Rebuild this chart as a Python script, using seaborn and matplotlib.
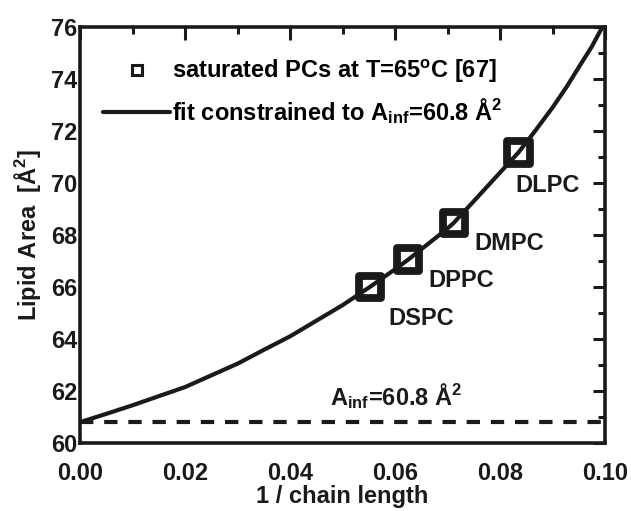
import matplotlib
matplotlib.use("Agg")
import matplotlib.pyplot as plt
import seaborn as sns
import numpy as np
import pandas as pd
from matplotlib.lines import Line2D
from matplotlib.ticker import MultipleLocator, FormatStrFormatter

# ---- data ----
lipids = ["DSPC", "DPPC", "DMPC", "DLPC"]
inv_chain = [0.0552, 0.0625, 0.0712, 0.0835]
area = [66.0, 67.05, 68.47, 71.17]

fit_x = [0.0, 0.005, 0.01, 0.015, 0.02, 0.025, 0.03, 0.035, 0.04, 0.045, 0.05,
         0.0552, 0.06, 0.0625, 0.065, 0.07, 0.0712, 0.075, 0.08, 0.0835,
         0.0865, 0.09, 0.0927, 0.095, 0.0975, 0.0995]
fit_y = [60.8, 61.12, 61.45, 61.8, 62.15, 62.6, 63.05, 63.58, 64.1, 64.7, 65.3,
         66.0, 66.68, 67.05, 67.45, 68.25, 68.47, 69.3, 70.4, 71.17,
         71.95, 72.9, 73.7, 74.45, 75.25, 76.0]

ainf = 60.8
ainf_x = [0.0, 0.1]
ainf_y = [ainf, ainf]

xticks = [0.00, 0.02, 0.04, 0.06, 0.08, 0.10]
yticks = [60, 62, 64, 66, 68, 70, 72, 74, 76]

label_pos = {"DSPC": (0.0587, 64.54), "DPPC": (0.0663, 66.0),
             "DMPC": (0.0752, 67.42), "DLPC": (0.0829, 69.65)}

# ---- style ----
sns.set_theme(style="white")
plt.rcParams["font.family"] = ["Liberation Sans", "DejaVu Sans"]
plt.rcParams["font.weight"] = "bold"
plt.rcParams["text.color"] = "black"
plt.rcParams["axes.labelcolor"] = "black"
plt.rcParams["xtick.color"] = "black"
plt.rcParams["ytick.color"] = "black"
plt.rcParams["mathtext.fontset"] = "custom"
plt.rcParams["mathtext.rm"] = "Liberation Sans:bold"
plt.rcParams["mathtext.it"] = "Liberation Sans:bold"
plt.rcParams["mathtext.bf"] = "Liberation Sans:bold"
plt.rcParams["mathtext.sf"] = "Liberation Sans"

FS = 17

fig = plt.figure(figsize=(6.31, 5.11), dpi=100)
ax = fig.add_axes([0.1268, 0.1331, 0.832, 0.8141])

fit_df = pd.DataFrame({"x": fit_x, "y": fit_y})
pts_df = pd.DataFrame({"x": inv_chain, "y": area, "lipid": lipids})
ainf_df = pd.DataFrame({"x": ainf_x, "y": ainf_y})

sns.lineplot(data=ainf_df, x="x", y="y", ax=ax, color="k", lw=3.0,
             linestyle=(0, (3.2, 2.6)), sort=False, estimator=None)
sns.lineplot(data=fit_df, x="x", y="y", ax=ax, color="k", lw=3.0,
             sort=False, estimator=None)
sns.scatterplot(data=pts_df, x="x", y="y", ax=ax, marker="s", s=262,
                facecolors="none", edgecolors="k", linewidths=5.6, zorder=3)

for name in lipids:
    px, py = label_pos[name]
    ax.text(px, py, name, fontsize=FS, fontweight="bold", ha="left",
            va="baseline", color="k")

ax.text(0.0476, 61.46, r"A$_{\rm inf}$=60.8 Å$^{\rm 2}$", fontsize=FS,
        fontweight="bold", ha="left", va="baseline", color="k")

ax.set_xlim(0, 0.1)
ax.set_ylim(60, 76)
ax.set_xticks(xticks)
ax.set_yticks(yticks)
ax.xaxis.set_minor_locator(MultipleLocator(0.01))
ax.yaxis.set_minor_locator(MultipleLocator(1))
ax.xaxis.set_major_formatter(FormatStrFormatter("%.2f"))
ax.yaxis.set_major_formatter(FormatStrFormatter("%d"))

ax.tick_params(which="both", direction="in", top=True, right=True,
               width=2.2, color="k", labelcolor="k", labelsize=FS)
ax.tick_params(which="major", length=9)
ax.tick_params(which="minor", length=5)
ax.tick_params(axis="x", which="major", pad=13.5)
ax.tick_params(axis="y", which="major", pad=2)
for lab in ax.get_xticklabels() + ax.get_yticklabels():
    lab.set_fontweight("bold")

for sp in ax.spines.values():
    sp.set_linewidth(2.6)
    sp.set_color("k")

ax.set_xlabel("1 / chain length", fontsize=FS, fontweight="bold", labelpad=0.5,
              color="k")
ax.set_ylabel("Lipid Area  [Å$^{\\rm 2}$]", fontsize=FS, fontweight="bold",
              labelpad=6, color="k")

handles = [
    Line2D([], [], marker="s", ms=7.5, mfc="none", mec="k", mew=2.2, ls="none"),
    Line2D([], [], color="k", lw=3.0),
]
labels = [r"saturated PCs at T=65$^{\rm o}$C $\mathsf{[67]}$",
          r"fit constrained to A$_{\rm inf}$=60.8 Å$^{\rm 2}$"]
ax.legend(handles, labels, loc="upper left", bbox_to_anchor=(0.044, 0.925),
          frameon=False, fontsize=FS, handlelength=2.85, handletextpad=0.05,
          labelspacing=0.45, borderpad=0, borderaxespad=0)

fig.savefig("out.png", dpi=100)
